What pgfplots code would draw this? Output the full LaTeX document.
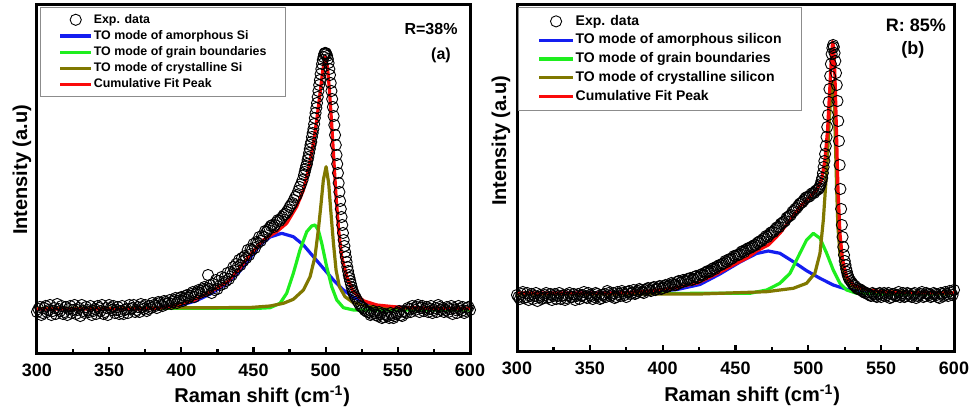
\documentclass[border=0pt]{standalone}
\usepackage{pgfplots}
\pgfplotsset{compat=1.18}
\usepackage{fontspec}
\setmainfont{Liberation Sans}
\definecolor{cblue}{RGB}{20,30,240}
\definecolor{cgreen}{RGB}{30,238,30}
\definecolor{colive}{RGB}{128,120,0}
\definecolor{cred}{RGB}{250,10,10}
\pgfplotsset{
  ramanaxis/.style={
    scale only axis,
    xmin=300, xmax=600, ymin=0,
    xtick={300,350,...,600},
    minor x tick num=1,
    xtick pos=left,
    ytick=\empty,
    tick align=inside,
    major tick length=2.8pt,
    minor tick length=1.8pt,
    tick style={black, line width=1.1pt},
    axis line style={line width=1.5pt},
    /pgf/number format/assume math mode=true,
    xticklabel style={font=\fontsize{9}{10}\selectfont\bfseries, yshift=-2pt},
    legend cell align=left,
  },
  expdata/.style={only marks, mark=o, mark size=2.8pt, black, mark options={line width=0.45pt}},
  lineleg/.style={legend image code/.code={\draw[##1] (0pt,0pt) -- (#1,0pt);}},
  markleg/.style={legend image code/.code={\draw[mark repeat=2,mark phase=2,##1] plot coordinates {(0pt,0pt) (#1/2,0pt) (#1,0pt)};}},
}
\begin{document}
\begin{tikzpicture}
\useasboundingbox (0,0) rectangle (485.5pt,206.5pt);
% ---------------- panel (a) ----------------
\begin{axis}[ramanaxis, at={(18.5pt,30pt)}, anchor=south west,
  width=216.5pt, height=174pt, ymax=348,
  xlabel={Raman shift (cm\textsuperscript{-1})}, ylabel={Intensity (a.u)},
  xlabel style={at={([yshift=-21.5pt]axis description cs:0.52,0)}, anchor=center, font=\fontsize{10}{12}\selectfont\bfseries},
  ylabel style={at={([xshift=-7.5pt]axis description cs:0,0.526)}, anchor=center, font=\fontsize{10}{12}\selectfont\bfseries},
  legend style={at={(axis description cs:0.007,0.994)}, anchor=north west, draw=black!45, line width=0.6pt,
    inner xsep=9pt, inner ysep=2.6pt, row sep=1.2pt, font=\fontsize{6.2}{7}\selectfont\bfseries,
    nodes={inner sep=0.5pt, text height=4.6pt, text depth=1.3pt},
    /tikz/every even column/.append style={column sep=1.5pt}},
]
\addplot[expdata, markleg=15.5pt]
coordinates {(300,41)(302,46)(304,40)(306,47)(308,43)(310,38)(312,45)(314,49)(316,42)(318,39)(320,46)(322,44)(324,40)(326,48)(328,43)(330,37)(332,42)(334,46)(336,41)(338,38)(340,44)(342,47)(344,42)(346,39)(348,45)(350,48)(352,43)(354,40)(356,46)(358,42)(360,39)(362,44)(364,48)(366,45)(368,41)(370,46)(372,49)(374,44)(376,42)(378,47)(380,50)(382,47)(384,51)(386,48)(388,52)(390,49)(392,53)(394,51)(396,55)(398,52)(400,56)(402,54)(404,58)(406,57)(408,61)(410,59)(412,63)(414,62)(416,66)(418,65)(418.5,78)(420,68)(422,69)(424,73)(426,72)(428,76)(430,75)(432,80)(434,81)(436,86)(438,89)(440,93)(442,95)(444,97)(446,103)(448,104)(450,109)(452,111)(454,116)(456,117)(458,122)(460,123)(462,127)(464,126)(466,131)(468,132)(470,136)(472,139)(474,143)(476,148)(478,153)(480,158)(482,166)(484,173)(486,184)(487,189)(488,196)(489,204)(490,211)(491,220)(492,229)(493,240)(494,250)(495,262)(496,273)(497,284)(498,293)(499,299)(500,300)(501,297)(502,290)(503,278)(504,262)(505,246)(506,228)(507,208)(508,189)(509,170)(510,152)(511,136)(512,120)(513,107)(514,96)(515,86)(516,78)(517,72)(518,66)(519,61)(520,57)(522,52)(524,47)(526,45)(528,42)(530,41)(532,39)(534,40)(536,37)(538,39)(540,36)(542,38)(544,35)(546,38)(548,37)(550,40)(552,38)(554,42)(556,40)(558,44)(560,47)(562,43)(564,48)(566,45)(568,42)(570,46)(572,44)(574,40)(576,45)(578,48)(580,43)(582,41)(584,46)(586,44)(588,39)(590,43)(592,47)(594,42)(596,40)(598,45)(600,43)};
\addlegendentry{Exp. data}
\addplot[expdata, forget plot]
coordinates {(301,44)(303,38)(305,45)(307,41)(309,48)(311,42)(313,39)(315,44)(317,47)(319,41)(321,38)(323,47)(325,43)(327,39)(329,45)(331,48)(333,40)(335,43)(337,47)(339,42)(341,39)(343,45)(345,48)(347,41)(349,38)(351,45)(353,47)(355,43)(357,39)(359,47)(361,43)(363,40)(365,44)(367,48)(369,43)(371,41)(373,46)(375,48)(377,44)(379,45)(381,48)(383,45)(385,50)(387,47)(389,51)(391,50)(393,49)(395,53)(397,50)(399,55)(401,52)(403,57)(405,55)(407,59)(409,56)(411,61)(413,60)(415,64)(417,62)(419,64)(421,60)(423,63)(425,64)(427,68)(429,69)(431,72)(433,74)(435,78)(437,82)(439,86)(441,88)(443,92)(445,95)(447,98)(449,103)(451,105)(453,110)(455,112)(457,116)(459,121)(461,125)(463,128)(465,128)(467,133)(469,134)(471,138)(473,141)(475,146)(477,150)(479,156)(481,162)(483,169)(485,178)(485.5,181)(486.5,187)(487.5,193)(488.5,200)(489.5,208)(490.5,216)(491.5,224)(492.5,235)(493.5,245)(494.5,256)(495.5,268)(496.5,279)(497.5,289)(498.5,296)(499.5,300)(500.5,299)(501.5,294)(502.5,284)(503.5,270)(504.5,254)(505.5,237)(506.5,218)(507.5,198)(508.5,180)(509.5,161)(510.5,144)(511.5,128)(512.5,113)(513.5,101)(514.5,91)(515.5,82)(516.5,75)(517.5,69)(518.5,63)(519.5,59)(521,55)(523,50)(525,46)(527,43)(529,41)(531,38)(533,42)(535,38)(537,41)(539,35)(541,39)(543,37)(545,40)(547,35)(549,39)(551,42)(553,37)(555,41)(557,45)(559,41)(561,45)(563,46)(565,41)(567,47)(569,44)(571,41)(573,47)(575,43)(577,41)(579,46)(581,45)(583,43)(585,41)(587,47)(589,45)(591,40)(593,44)(595,46)(597,42)(599,46)};
\addplot[cblue, line width=1.6pt, line join=round, lineleg=15.5pt]
coordinates {(300,44)(380,45)(400,48)(410,52)(420,59)(430,68)(440,81)(447.6,95)(454.5,108)(461.5,116)(469.5,119.7)(477.6,116.3)(484.6,108)(491.5,96.3)(498.4,84.7)(505.4,73)(512.3,63)(519.2,55.7)(528.4,49.7)(540,46.3)(572.3,44.7)(600,44.5)};
\addlegendentry{TO mode of amorphous Si}
\addplot[cgreen, line width=1.6pt, line join=round, lineleg=15.5pt]
coordinates {(300,44.5)(455,44.8)(461.5,45.3)(468.4,49.7)(473,59.7)(477.6,79.7)(482.2,103)(486.9,121.3)(490.3,127)(492.6,128)(494.9,123)(497.3,109.7)(500.7,86.3)(504.2,66.3)(507.7,53)(512.3,45.3)(519.2,43)(600,43)};
\addlegendentry{TO mode of grain boundaries}
\addplot[colive, line width=1.6pt, line join=round, lineleg=15.5pt]
coordinates {(300,44.5)(447.6,45.5)(461.5,47)(470.7,49.7)(477.6,53.7)(484.6,63)(489.2,76.3)(492.6,96.3)(494.9,123)(496.6,146.3)(498.4,173)(500.3,186.3)(502.1,169.7)(503.5,143)(505.4,109.7)(507.2,83)(509.5,66.3)(513.4,56.3)(519.2,50.3)(528.4,47)(540,45.3)(572.3,44.7)(600,44.5)};
\addlegendentry{TO mode of crystalline Si}
\addplot[cred, line width=1.6pt, line join=round, lineleg=15.5pt]
coordinates {(300,44)(370,44)(385,45)(397,48)(409,53)(420,61)(432,71)(440,84)(447.6,98)(456.8,113)(466.1,121.3)(473,129.7)(479.9,146.3)(484.6,163)(488,183)(491.5,209.7)(493.8,233)(496.1,259.7)(498,283)(499.8,296.3)(501.2,286.3)(502.6,263)(504,233)(505.4,199.7)(507.2,156.3)(509,123)(511.1,96.3)(514.6,76.3)(519.2,61.3)(526.1,52.3)(535.4,48)(551.5,45.7)(572.3,44.7)(600,44.5)};
\addlegendentry{Cumulative Fit Peak}
\node[font=\fontsize{8}{9}\selectfont\bfseries] at (axis description cs:0.91,0.931) {R=38\%};
\node[font=\fontsize{8}{9}\selectfont\bfseries] at (axis description cs:0.933,0.856) {(a)};
\end{axis}
% ---------------- panel (b) ----------------
\begin{axis}[ramanaxis, at={(258.5pt,31pt)}, anchor=south west,
  width=218.5pt, height=173pt, ymax=346,
  xlabel={Raman shift (cm\textsuperscript{-1})}, ylabel={Intensity (a.u)},
  xlabel style={at={([yshift=-22pt]axis description cs:0.538,0)}, anchor=center, font=\fontsize{10}{12}\selectfont\bfseries},
  ylabel style={at={([xshift=-8pt]axis description cs:0,0.607)}, anchor=center, font=\fontsize{10}{12}\selectfont\bfseries},
  legend style={at={(axis description cs:0.002,0.994)}, anchor=north west, draw=black!45, line width=0.6pt,
    inner xsep=9.5pt, inner ysep=3pt, row sep=1.7pt, font=\fontsize{7}{8}\selectfont\bfseries,
    nodes={inner sep=0.5pt, text height=5.2pt, text depth=1.5pt},
    /tikz/every even column/.append style={column sep=1.5pt}},
]
\addplot[expdata, markleg=17pt]
coordinates {(300,56)(302,52)(304,59)(306,54)(308,51)(310,57)(312,55)(314,50)(316,56)(318,53)(320,58)(322,54)(324,51)(326,57)(328,55)(330,52)(332,56)(334,53)(336,58)(338,54)(340,51)(342,57)(344,55)(346,59)(348,53)(350,56)(352,52)(354,58)(356,55)(358,53)(360,57)(362,60)(364,55)(366,58)(368,54)(370,57)(372,60)(374,56)(376,59)(378,57)(380,61)(382,58)(384,62)(386,59)(388,61)(390,63)(392,60)(394,64)(396,62)(398,65)(400,63)(402,66)(404,65)(406,68)(408,66)(410,69)(412,68)(414,71)(416,70)(418,72)(420,71)(422,74)(424,73)(426,76)(428,76)(430,79)(432,79)(434,82)(436,82)(438,85)(440,86)(442,88)(444,89)(446,92)(448,93)(450,95)(452,96)(454,99)(456,99)(458,102)(460,103)(462,105)(464,106)(466,109)(468,110)(470,113)(472,114)(474,118)(476,119)(478,123)(480,124)(482,128)(484,130)(486,134)(488,136)(490,140)(492,143)(494,147)(496,149)(498,153)(500,154)(502,157)(504,158)(506,161)(507,162)(508,165)(509,170)(510,178)(511,190)(512,205)(513,224)(513.5,236)(514,249)(514.5,262)(515,275)(515.5,287)(516,297)(516.5,303)(517,306)(517.5,304)(518,298)(518.5,290)(519,278)(519.5,266)(520,250)(520.5,230)(521,210)(521.5,186)(522,162)(522.5,142)(523,126)(523.5,114)(524,104)(524.5,96)(525,90)(526,82)(527,76)(528,72)(530,68)(532,65)(534,62)(536,61)(538,59)(540,58)(542,56)(544,58)(546,55)(548,57)(550,54)(552,58)(554,56)(556,53)(558,57)(560,55)(562,59)(564,56)(566,54)(568,58)(570,55)(572,57)(574,53)(576,56)(578,59)(580,55)(582,57)(584,54)(586,58)(588,56)(590,53)(592,57)(594,59)(596,55)(598,58)(600,61)};
\addlegendentry{Exp. data}
\addplot[expdata, forget plot]
coordinates {(301,54)(303,57)(305,53)(307,58)(309,55)(311,52)(313,58)(315,54)(317,52)(319,56)(321,53)(323,57)(325,55)(327,52)(329,58)(331,55)(333,51)(335,56)(337,54)(339,57)(341,55)(343,52)(345,56)(347,54)(349,58)(351,55)(353,54)(355,57)(357,52)(359,56)(361,54)(363,58)(365,56)(367,53)(369,59)(371,55)(373,58)(375,54)(377,60)(379,58)(381,57)(383,60)(385,61)(387,58)(389,62)(391,61)(393,63)(395,61)(397,64)(399,62)(401,65)(403,64)(405,66)(407,67)(409,66)(411,70)(413,69)(415,70)(417,72)(419,73)(421,72)(423,75)(425,74)(427,77)(429,78)(431,80)(433,80)(435,83)(437,84)(439,86)(441,87)(443,90)(445,91)(447,92)(449,95)(451,96)(453,97)(455,100)(457,101)(459,103)(461,104)(463,106)(465,108)(467,110)(469,112)(471,115)(473,116)(475,119)(477,121)(479,124)(481,127)(483,129)(485,133)(487,135)(489,139)(491,142)(493,145)(495,148)(497,151)(499,154)(501,155)(503,158)(505,160)(507.5,163)(508.5,167)(509.5,173)(510.5,184)(511.5,197)(512.5,214)(525.5,86)(526.5,79)(527.5,74)(529,70)(531,66)(533,63)(535,62)(537,60)(539,58)(541,57)(543,55)(545,57)(547,54)(549,58)(551,56)(553,55)(555,58)(557,54)(559,57)(561,56)(563,54)(565,58)(567,55)(569,57)(571,54)(573,58)(575,55)(577,57)(579,54)(581,58)(583,56)(585,55)(587,57)(589,54)(591,58)(593,55)(595,57)(597,60)(599,56)};
\addplot[cblue, line width=1.6pt, line join=round, lineleg=17pt]
coordinates {(300,57.5)(380,58.5)(400,60)(410,61.5)(425.6,66.5)(439.3,77)(453.1,89)(464.5,97.5)(472.5,100)(480.5,97.7)(489.7,89.3)(498.8,80.3)(508,72.7)(517.1,66)(526.3,61.7)(535.4,59.3)(549.2,57.7)(600,57.5)};
\addlegendentry{TO mode of amorphous silicon}
\addplot[cgreen, line width=1.6pt, line join=round, lineleg=17pt]
coordinates {(300,57.5)(459.9,57.7)(471.4,61)(480.5,67.7)(487.4,77.7)(494.2,97.7)(498.8,111)(503.4,117.7)(508,112.7)(512.6,97.7)(517.1,81)(521.7,67.7)(526.3,61)(533.1,57.7)(549.2,57)(600,57)};
\addlegendentry{TO mode of grain boundaries}
\addplot[colive, line width=1.6pt, line join=round, lineleg=17pt]
coordinates {(300,57)(425.6,57)(471.4,59.3)(489.7,62.7)(498.8,67.7)(504.5,77.7)(508,97.7)(510.3,131)(512.6,181)(514.4,231)(515.8,264.3)(516.7,269.3)(517.6,257.7)(518.5,214.3)(519.4,164.3)(520.3,124.3)(521.7,97.7)(524,77.7)(527.4,67.7)(533.1,62.7)(549.2,59.3)(600,58)};
\addlegendentry{TO mode of crystalline silicon}
\addplot[cred, line width=1.6pt, line join=round, lineleg=17pt]
coordinates {(300,58)(370,58)(390,60)(407,62.7)(424,68)(437,77)(451,88)(458,93)(464.5,100)(472.5,106)(480.5,117.7)(487.4,131)(494.2,144.3)(501.1,154.3)(505.7,161)(509.1,171)(511.4,191)(513.2,221)(514.8,264.3)(516,297.7)(516.7,309.3)(517.6,301)(518.5,264.3)(519.4,214.3)(520.3,164.3)(521.7,117.7)(523.5,91)(526.3,74.3)(530.9,66)(540,61.7)(549.2,59.3)(570,58.3)(600,58)};
\addlegendentry{Cumulative Fit Peak}
\node[font=\fontsize{9}{10}\selectfont\bfseries] at (axis description cs:0.913,0.942) {R: 85\%};
\node[font=\fontsize{9}{10}\selectfont\bfseries] at (axis description cs:0.906,0.870) {(b)};
\end{axis}
\end{tikzpicture}
\end{document}
